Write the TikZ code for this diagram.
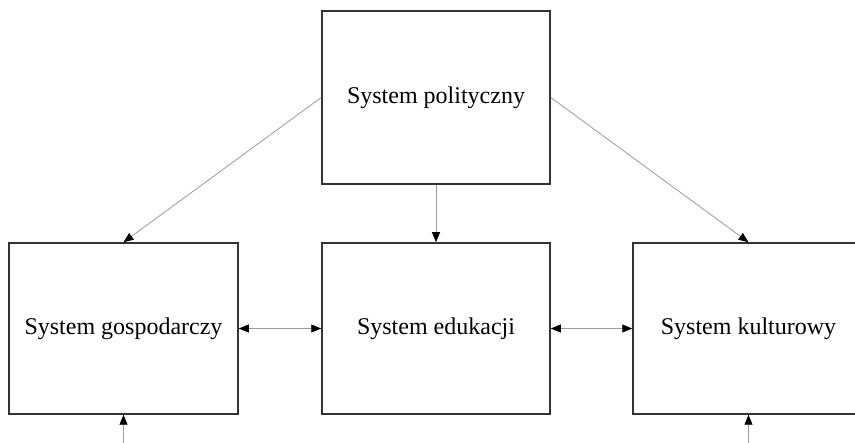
\documentclass[tikz,border=0pt]{standalone}
\usepackage{fontspec}
\setmainfont{Liberation Serif}
\usepackage{xcolor}
\usepackage{tikz}
\usetikzlibrary{arrows.meta, positioning}
\definecolor{boxgray}{HTML}{333333}
\definecolor{linegray}{HTML}{9A9A9A}

\begin{document}
\begin{tikzpicture}[x=1pt, y=-1pt,
    sysbox/.style={draw=boxgray, line width=1.5pt, minimum height=171pt,
                   align=center, font=\fontsize{24}{28}\selectfont, fill=white},
    arrow/.style={-{Triangle[black, length=10pt, width=8pt]}, line width=0.8pt, linegray},
    biarrow/.style={{Triangle[black, length=10pt, width=8pt]}-{Triangle[black, length=10pt, width=8pt]},
                    line width=0.8pt, linegray}
  ]
    \useasboundingbox (0,0) rectangle (855,443);
    \clip (0,0) rectangle (855,443);

    \node[sysbox, minimum width=228pt, minimum height=173pt] (pol) at (436,97.5)
      {System polityczny};
    \node[sysbox, minimum width=229pt] (gosp) at (123.5,328.5)
      {System gospodarczy};
    \node[sysbox, minimum width=228pt] (edu) at (436,328.5)
      {System edukacji};
    \node[sysbox, minimum width=231pt] (kult) at (748.5,328.5)
      {System kulturowy};

    \coordinate (ingosp) at (123.5,450);
    \coordinate (inkult) at (748.5,450);

    \draw[arrow] (pol.west) -- (gosp.north);
    \draw[arrow] (pol.south) -- (edu.north);
    \draw[arrow] (pol.east) -- (kult.north);
    \draw[biarrow] (gosp.east) -- (edu.west);
    \draw[biarrow] (edu.east) -- (kult.west);
    \draw[arrow] (ingosp) -- (gosp.south);
    \draw[arrow] (inkult) -- (kult.south);
  \end{tikzpicture}
\end{document}
